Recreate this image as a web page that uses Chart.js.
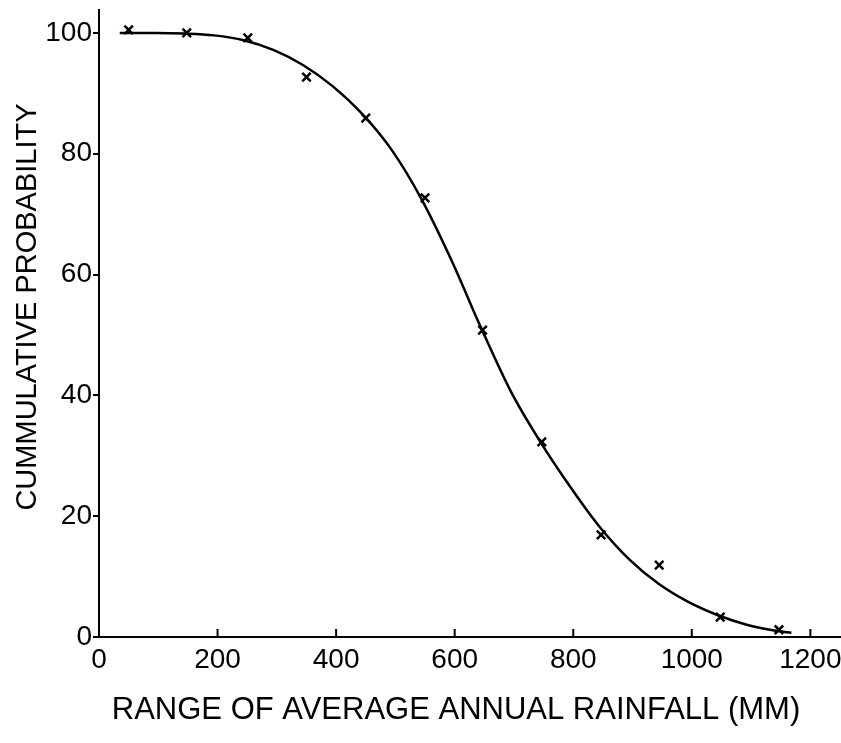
<!DOCTYPE html>
<html>
<head>
<meta charset="utf-8">
<script src="https://cdn.jsdelivr.net/npm/chart.js@4"></script>
<style>
  html,body{margin:0;padding:0;background:#fff;}
  #wrap{width:841px;height:743px;}
</style>
</head>
<body>
<div id="wrap"><canvas id="chart" width="841" height="743"></canvas></div>
<script>
// pontos observados (x marcados)
const obsX = [50, 148, 251, 350, 450, 550, 647, 747, 847, 945, 1048, 1147];
const obsY = [100.5, 100, 99.2, 92.7, 85.9, 72.7, 50.8, 32.3, 16.9, 11.9, 3.3, 1.2];

// curva ajustada
const curveX = [35, 95, 145, 194, 244, 294, 344, 394, 444, 494, 544, 594, 644, 694, 744, 794, 844, 894, 944, 994, 1044, 1094, 1144, 1168];
const curveY = [100, 100, 99.9, 99.6, 98.8, 97.2, 94.7, 91.2, 86.6, 80.6, 72.5, 62.5, 51.3, 40.8, 32.4, 25.0, 18.3, 12.9, 8.8, 5.8, 3.6, 2.0, 1.0, 0.7];

const xTicks = [0, 200, 400, 600, 800, 1000, 1200];
const yTicks = [0, 20, 40, 60, 80, 100];

const xTitle = 'RANGE OF AVERAGE ANNUAL RAINFALL (MM)';
const yTitle = 'CUMMULATIVE PROBABILITY';

const FONT = "'Liberation Sans', Arial, sans-serif";

// ticks do eixo x para dentro + titulos dos eixos
const extras = {
  id:'extras',
  afterDraw(chart){
    const ctx = chart.ctx, xs = chart.scales.x, bottom = chart.chartArea.bottom;
    ctx.save();
    ctx.strokeStyle = '#000';
    ctx.lineWidth = 2;
    xTicks.forEach(v=>{
      const px = xs.getPixelForValue(v);
      ctx.beginPath();
      ctx.moveTo(px, bottom);
      ctx.lineTo(px, bottom - 8);
      ctx.stroke();
    });
    ctx.fillStyle = '#000';
    ctx.textAlign = 'center';
    ctx.textBaseline = 'middle';
    ctx.font = '31px ' + FONT;
    ctx.fillText(xTitle, 456, 710);
    ctx.translate(28, 307);
    ctx.rotate(-Math.PI/2);
    ctx.font = '29px ' + FONT;
    ctx.fillText(yTitle, 0, 0);
    ctx.restore();
  }
};

new Chart(document.getElementById('chart'),{
  type:'scatter',
  data:{
    datasets:[
      {
        type:'line',
        data:curveX.map((x,i)=>({x, y:curveY[i]})),
        borderColor:'#000',
        borderWidth:2.5,
        pointRadius:0,
        cubicInterpolationMode:'monotone',
        fill:false
      },
      {
        data:obsX.map((x,i)=>({x, y:obsY[i]})),
        pointStyle:'crossRot',
        pointRadius:6,
        borderColor:'#000',
        borderWidth:2.5,
        backgroundColor:'#000'
      }
    ]
  },
  options:{
    responsive:false,
    animation:false,
    layout:{autoPadding:false, padding:{top:10, right:1, left:0, bottom:0}},
    plugins:{legend:{display:false}, tooltip:{enabled:false}},
    scales:{
      x:{
        type:'linear', min:0, max:1250,
        afterBuildTicks(s){ s.ticks = xTicks.map(v=>({value:v})); },
        afterFit(s){ s.height = 106; s.paddingLeft = 0; s.paddingRight = 0; },
        border:{color:'#000', width:2},
        grid:{display:true, drawOnChartArea:false, drawTicks:false},
        ticks:{color:'#000', padding:6, maxRotation:0, font:{family:FONT, size:28},
               callback:v=>String(v)}
      },
      y:{
        type:'linear', min:0, max:103.8,
        afterBuildTicks(s){ s.ticks = yTicks.map(v=>({value:v})); },
        afterFit(s){ s.width = 99; s.paddingTop = 0; s.paddingBottom = 0; },
        border:{color:'#000', width:2},
        grid:{drawOnChartArea:false, drawTicks:true, tickLength:6, color:'#000', lineWidth:2},
        ticks:{color:'#000', padding:1, font:{family:FONT, size:28}, callback:v=>String(v)}
      }
    }
  },
  plugins:[extras]
});
</script>
</body>
</html>
